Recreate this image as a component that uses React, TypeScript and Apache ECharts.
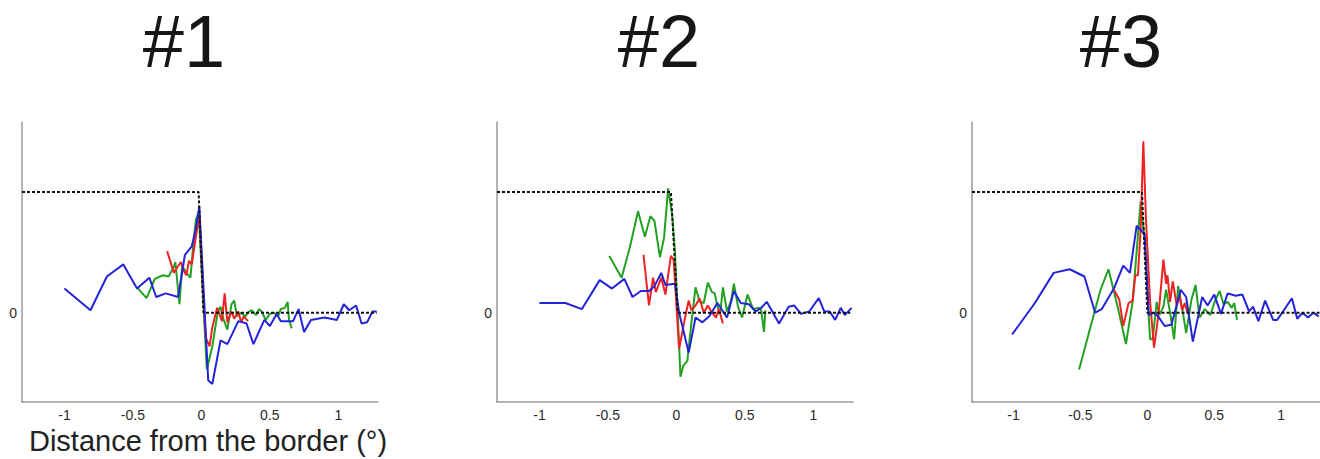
import React, { useEffect, useRef } from "react";
import * as echarts from "echarts";

const panelTitles = ["#1", "#2", "#3"];
const xTicks = [-1, -0.5, 0, 0.5, 1];
const yTicks = [0];
const xMin = -1.31;
const xMax = 1.29;
const yMin = -0.74;
const yMax = 1.58;
const xAxisTitle = "Distance from the border (°)";

const p1Blue = [[-1.0,0.20],[-0.81,0.02],[-0.69,0.30],[-0.57,0.40],[-0.47,0.20],[-0.38,0.29],[-0.33,0.13],[-0.26,0.16],[-0.17,0.13],[-0.12,0.48],[-0.07,0.55],[-0.04,0.70],[-0.015,0.88],[0.05,-0.56],[0.08,-0.59],[0.14,-0.23],[0.19,-0.26],[0.27,-0.07],[0.33,-0.09],[0.38,-0.26],[0.46,-0.06],[0.50,-0.11],[0.55,-0.01],[0.58,-0.07],[0.67,-0.07],[0.71,0.03],[0.75,-0.16],[0.80,-0.06],[0.90,-0.04],[0.99,-0.06],[1.04,0.07],[1.08,0.02],[1.13,0.06],[1.17,-0.09],[1.21,-0.08],[1.25,0.01],[1.28,0.01]];
const p1Green = [[-0.47,0.21],[-0.40,0.12],[-0.34,0.28],[-0.28,0.31],[-0.24,0.30],[-0.20,0.38],[-0.19,0.42],[-0.16,0.07],[-0.14,0.39],[-0.11,0.33],[-0.08,0.29],[-0.06,0.55],[-0.04,0.77],[-0.02,0.83],[0.04,-0.47],[0.08,-0.28],[0.12,0.01],[0.14,0.05],[0.16,-0.05],[0.19,-0.14],[0.22,0.07],[0.24,0.10],[0.26,-0.03],[0.29,0.0],[0.32,-0.03],[0.35,0.01],[0.37,0.02],[0.40,-0.02],[0.42,0.03],[0.44,0.01],[0.47,-0.06],[0.50,-0.01],[0.53,0.0],[0.56,-0.03],[0.58,0.03],[0.61,0.04],[0.63,0.09],[0.64,-0.06],[0.66,-0.13]];
const p1Red = [[-0.25,0.51],[-0.22,0.40],[-0.20,0.33],[-0.18,0.37],[-0.15,0.42],[-0.13,0.35],[-0.11,0.31],[-0.09,0.43],[-0.07,0.40],[-0.04,0.63],[-0.015,0.81],[0.03,-0.20],[0.06,-0.28],[0.08,-0.12],[0.115,0.04],[0.13,0.0],[0.15,-0.07],[0.17,0.16],[0.19,-0.08],[0.22,0.01],[0.24,-0.05],[0.27,0.01],[0.29,-0.08],[0.31,-0.03],[0.34,-0.07]];
const p1Ref = [[-1.31,1],[-0.02,1],[0.015,0],[1.28,0]];

const p2Blue = [[-1.0,0.08],[-0.81,0.08],[-0.69,0.03],[-0.56,0.27],[-0.47,0.20],[-0.38,0.28],[-0.32,0.13],[-0.26,0.18],[-0.20,0.18],[-0.16,0.22],[-0.11,0.33],[-0.08,0.23],[-0.01,0.24],[0.02,0.0],[0.09,-0.33],[0.14,-0.04],[0.19,-0.08],[0.24,-0.03],[0.30,0.08],[0.37,-0.04],[0.42,0.18],[0.47,0.08],[0.53,0.07],[0.58,0.01],[0.62,0.04],[0.66,0.09],[0.75,-0.09],[0.82,0.05],[0.86,0.06],[0.91,-0.01],[0.97,0.01],[1.04,0.12],[1.08,0.01],[1.12,0.01],[1.16,-0.06],[1.20,0.04],[1.23,-0.02],[1.28,0.04]];
const p2Green = [[-0.49,0.47],[-0.40,0.29],[-0.34,0.54],[-0.28,0.84],[-0.23,0.63],[-0.19,0.80],[-0.16,0.76],[-0.12,0.46],[-0.09,0.62],[-0.06,1.03],[-0.03,0.80],[-0.01,0.50],[0.03,-0.53],[0.05,-0.44],[0.08,-0.40],[0.11,-0.08],[0.14,0.21],[0.17,0.09],[0.20,0.08],[0.23,0.25],[0.26,0.17],[0.28,0.16],[0.30,0.05],[0.32,-0.01],[0.34,0.21],[0.37,0.01],[0.40,0.10],[0.42,0.24],[0.45,0.05],[0.48,-0.04],[0.52,0.15],[0.56,0.03],[0.60,0.04],[0.62,0.02],[0.64,-0.16],[0.65,0.02]];
const p2Red = [[-0.24,0.48],[-0.20,0.06],[-0.17,0.29],[-0.15,0.17],[-0.11,0.29],[-0.08,0.15],[-0.04,0.47],[-0.02,0.44],[0.02,-0.30],[0.06,-0.06],[0.09,0.10],[0.11,0.02],[0.14,0.06],[0.17,0.12],[0.20,0.0],[0.23,0.06],[0.26,0.0],[0.29,-0.04],[0.31,0.03],[0.34,-0.09]];
const p2Ref = [[-1.31,1],[-0.04,1],[0.01,0],[1.27,0]];

const p3Blue = [[-1.01,-0.18],[-0.84,0.08],[-0.70,0.33],[-0.58,0.36],[-0.47,0.30],[-0.39,0.0],[-0.34,0.03],[-0.25,0.20],[-0.18,0.39],[-0.13,0.33],[-0.08,0.72],[-0.02,0.65],[0.01,-0.02],[0.05,0.0],[0.08,-0.03],[0.13,-0.11],[0.18,-0.10],[0.25,0.19],[0.29,0.13],[0.34,-0.24],[0.41,0.13],[0.45,0.06],[0.50,0.15],[0.55,-0.01],[0.60,0.16],[0.66,0.14],[0.71,0.15],[0.76,0.01],[0.79,0.05],[0.83,-0.07],[0.88,0.10],[0.94,-0.06],[0.97,-0.06],[1.02,0.02],[1.08,0.12],[1.12,-0.05],[1.16,0.0],[1.20,-0.04],[1.24,0.0],[1.28,-0.03]];
const p3Green = [[-0.51,-0.47],[-0.35,0.19],[-0.29,0.36],[-0.22,0.04],[-0.16,-0.26],[-0.11,0.09],[-0.05,0.92],[-0.02,0.60],[0.02,-0.22],[0.04,-0.22],[0.07,0.09],[0.09,-0.02],[0.12,0.05],[0.14,0.19],[0.17,0.0],[0.20,-0.22],[0.23,0.22],[0.26,0.04],[0.29,-0.17],[0.33,0.11],[0.36,0.23],[0.39,-0.04],[0.43,0.03],[0.47,-0.02],[0.51,0.11],[0.54,0.18],[0.57,0.07],[0.60,0.09],[0.63,0.04],[0.65,0.08],[0.67,-0.06]];
const p3Red = [[-0.25,0.19],[-0.21,0.11],[-0.18,-0.11],[-0.14,0.08],[-0.11,0.10],[-0.09,0.31],[-0.07,0.31],[-0.05,0.69],[-0.03,1.42],[-0.01,0.77],[0.02,0.10],[0.05,-0.29],[0.07,-0.13],[0.09,0.06],[0.12,0.44],[0.14,0.24],[0.15,0.31],[0.17,0.09],[0.19,0.26],[0.22,0.06],[0.24,0.14],[0.26,0.02],[0.28,0.08],[0.30,0.0]];
const p3Ref = [[-1.31,1],[-0.04,1],[0.0,0],[1.29,0]];

const panels = [
  { green: p1Green, red: p1Red, blue: p1Blue, ref: p1Ref },
  { green: p2Green, red: p2Red, blue: p2Blue, ref: p2Ref },
  { green: p3Green, red: p3Red, blue: p3Blue, ref: p3Ref },
];

const FONT = "'Liberation Sans', Arial, Helvetica, sans-serif";
const gridLefts = [22, 497, 972];
const titleX = [184, 659, 1121];

export default function App() {
  const ref = useRef<HTMLDivElement>(null);
  useEffect(() => {
    if (!ref.current) return;
    const chart = echarts.init(ref.current, null, { renderer: "svg" });
    const grid = gridLefts.map((l) => ({ left: l, top: 122, width: 356, height: 280 }));
    const xAxis = gridLefts.map((_, i) => ({
      type: "value", gridIndex: i, min: xMin, max: xMax,
      axisLine: { show: true, onZero: false, lineStyle: { color: "#9a9a9a", width: 1.5 } },
      axisTick: { show: false },
      splitLine: { show: false },
      axisLabel: { customValues: xTicks, fontSize: 14, color: "#2a2a2a", margin: 6, fontFamily: FONT },
    }));
    const yAxis = gridLefts.map((_, i) => ({
      type: "value", gridIndex: i, min: yMin, max: yMax,
      axisLine: { show: true, onZero: false, lineStyle: { color: "#9a9a9a", width: 1.5 } },
      axisTick: { show: false },
      splitLine: { show: false },
      axisLabel: { customValues: yTicks, fontSize: 14, color: "#2a2a2a", margin: 5, fontFamily: FONT },
    }));
    const series: any[] = [];
    panels.forEach((p, i) => {
      const mk = (data: number[][], color: string, extra: any = {}) => ({
        type: "line", xAxisIndex: i, yAxisIndex: i, data, showSymbol: false,
        lineStyle: { color, width: 2, ...extra }, silent: true,
      });
      series.push(mk(p.green, "#22a022"));
      series.push(mk(p.red, "#ee2222"));
      series.push(mk(p.blue, "#2323d8"));
      series.push(mk(p.ref, "#111111", { type: [3, 2], width: 2 }));
    });
    const graphic: any[] = panelTitles.map((t, i) => ({
      type: "text", x: titleX[i], y: 41,
      style: { text: t, fontSize: 74, fontFamily: FONT, fill: "#161616", align: "center", verticalAlign: "middle" },
    }));
    graphic.push({
      type: "text", x: 208, y: 441,
      style: { text: xAxisTitle, fontSize: 29, fontFamily: FONT, fill: "#222", align: "center", verticalAlign: "middle" },
    });
    chart.setOption({ animation: false, backgroundColor: "#fff", grid, xAxis, yAxis, series, graphic });
    return () => chart.dispose();
  }, []);
  return <div ref={ref} style={{ position: "fixed", left: 0, top: 0, width: 1320, height: 459 }} />;
}
